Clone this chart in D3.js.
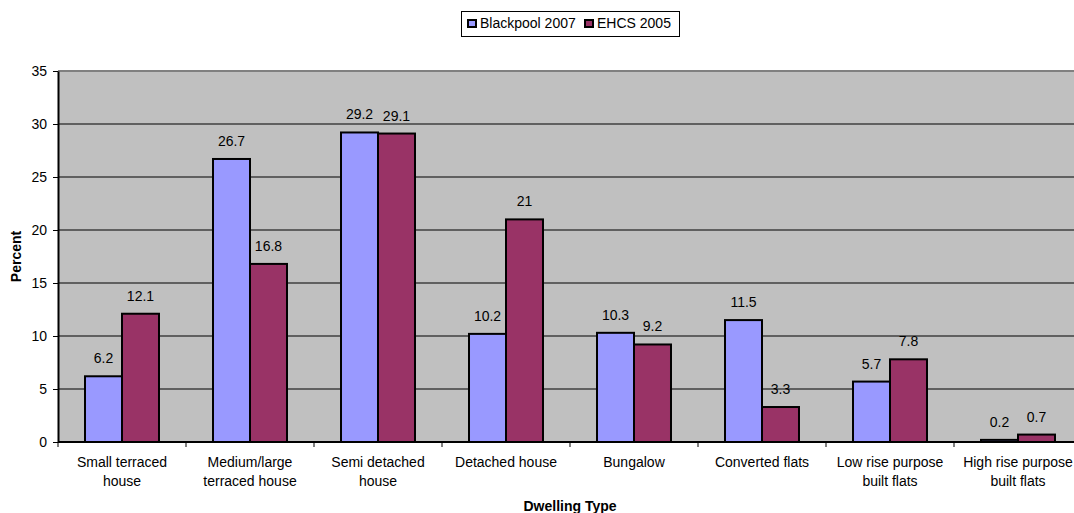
<!DOCTYPE html>
<html>
<head>
<meta charset="utf-8">
<script src="https://cdn.jsdelivr.net/npm/d3@7"></script>
<style>
  body { margin: 0; background: #fff; }
  svg { font-family: "Liberation Sans", Arial, sans-serif; display: block; }
</style>
</head>
<body>
<svg class="chart" width="1074" height="513"></svg>
<script>
const categories = ["Small terraced house", "Medium/large terraced house", "Semi detached house",
    "Detached house", "Bungalow", "Converted flats", "Low rise purpose built flats",
    "High rise purpose built flats"];
const categoryLines = [["Small terraced", "house"], ["Medium/large", "terraced house"], ["Semi detached", "house"],
    ["Detached house"], ["Bungalow"], ["Converted flats"], ["Low rise purpose", "built flats"],
    ["High rise purpose", "built flats"]];
const seriesNames = ["Blackpool 2007", "EHCS 2005"];
const blackpool = [6.2, 26.7, 29.2, 10.2, 10.3, 11.5, 5.7, 0.2];
const ehcs = [12.1, 16.8, 29.1, 21, 9.2, 3.3, 7.8, 0.7];
const yTicks = [0, 5, 10, 15, 20, 25, 30, 35];
const colors = ["#9999FF", "#993366"];

(function drawChart() {
    const svg = d3.select("svg.chart");
    const left = 58, top = 71, plotW = 1024, plotH = 371;
    const fontSize = 14;

    const x = d3.scaleBand().domain(categories).range([left, left + plotW]);
    const y = d3.scaleLinear().domain([0, 35]).range([top + plotH, top]);
    const xs = d3.scaleBand().domain(seriesNames).range([0, x.bandwidth()]).paddingInner(0).paddingOuter(0.73);

    // plot background
    svg.append("rect").attr("x", left).attr("y", top).attr("width", plotW).attr("height", plotH)
        .attr("fill", "#C0C0C0");
    svg.append("line").attr("x1", left).attr("x2", left + plotW).attr("y1", top).attr("y2", top)
        .attr("stroke", "#808080").attr("stroke-width", 2);

    // gridlines
    svg.append("g").selectAll("line").data(yTicks.filter(d => d > 0 && d < 35)).enter()
        .append("line")
        .attr("x1", left).attr("x2", left + plotW)
        .attr("y1", d => y(d)).attr("y2", d => y(d))
        .attr("stroke", "#000").attr("stroke-width", 1);

    // bars
    const rows = categories.map((c, i) => ({cat: c, vals: [blackpool[i], ehcs[i]]}));
    const groups = svg.append("g").selectAll("g").data(rows).enter()
        .append("g").attr("transform", d => "translate(" + x(d.cat) + ",0)");

    groups.selectAll("rect").data(d => d.vals.map((v, j) => ({name: seriesNames[j], v: v, j: j}))).enter()
        .append("rect")
        .attr("x", d => xs(d.name))
        .attr("width", xs.bandwidth())
        .attr("y", d => y(d.v))
        .attr("height", d => y(0) - y(d.v))
        .attr("fill", d => colors[d.j])
        .attr("stroke", "#000").attr("stroke-width", 2);

    groups.selectAll("text").data(d => d.vals.map((v, j) => ({name: seriesNames[j], v: v}))).enter()
        .append("text")
        .attr("x", d => xs(d.name) + xs.bandwidth() / 2)
        .attr("y", d => y(d.v) - 13)
        .attr("text-anchor", "middle")
        .attr("font-size", fontSize)
        .attr("fill", "#000")
        .text(d => d.v);

    // y axis
    const yAxis = svg.append("g").attr("transform", "translate(" + left + ",0)")
        .call(d3.axisLeft(y).tickValues(yTicks).tickSize(5).tickSizeOuter(0));
    yAxis.select(".domain").attr("stroke", "#000").attr("stroke-width", 2);
    yAxis.selectAll(".tick line").attr("stroke", "#000");
    yAxis.selectAll(".tick text").attr("font-size", fontSize).attr("font-family", "Liberation Sans, Arial, sans-serif")
        .attr("fill", "#000").attr("x", -11);

    // x axis
    const xAxis = svg.append("g").attr("transform", "translate(0," + (top + plotH) + ")");
    xAxis.append("line").attr("x1", left).attr("x2", left + plotW).attr("stroke", "#000").attr("stroke-width", 2);
    xAxis.selectAll(".xt").data(categories).enter().append("line")
        .attr("x1", d => x(d)).attr("x2", d => x(d)).attr("y1", 0).attr("y2", 5)
        .attr("stroke", "#000");

    const labels = xAxis.selectAll(".xl").data(categories).enter().append("text")
        .attr("text-anchor", "middle").attr("font-size", fontSize).attr("fill", "#000")
        .attr("transform", d => "translate(" + (x(d) + x.bandwidth() / 2) + ",25)");
    labels.selectAll("tspan").data((d, i) => categoryLines[i]).enter().append("tspan")
        .attr("x", 0).attr("dy", (d, i) => i === 0 ? 0 : 19).text(d => d);

    // axis titles
    svg.append("text").attr("transform", "translate(21," + (top + plotH / 2) + ") rotate(-90)")
        .attr("text-anchor", "middle").attr("font-size", fontSize).attr("font-weight", "bold").text("Percent");
    svg.append("text").attr("x", 570).attr("y", 511).attr("text-anchor", "middle")
        .attr("font-size", fontSize).attr("font-weight", "bold").text("Dwelling Type");

    // legend
    const lg = svg.append("g");
    lg.append("rect").attr("x", 461.5).attr("y", 11.5).attr("width", 218).attr("height", 25)
        .attr("fill", "#fff").attr("stroke", "#000");
    const items = lg.selectAll("g").data(seriesNames).enter().append("g")
        .attr("transform", (d, i) => "translate(" + (467 + i * 117) + ",0)");
    items.append("rect").attr("x", 1).attr("y", 20).attr("width", 8).attr("height", 7)
        .attr("fill", (d, i) => colors[i]).attr("stroke", "#000").attr("stroke-width", 2);
    items.append("text").attr("x", 13).attr("y", 28).attr("font-size", fontSize).text(d => d);
})();
</script>
</body>
</html>
